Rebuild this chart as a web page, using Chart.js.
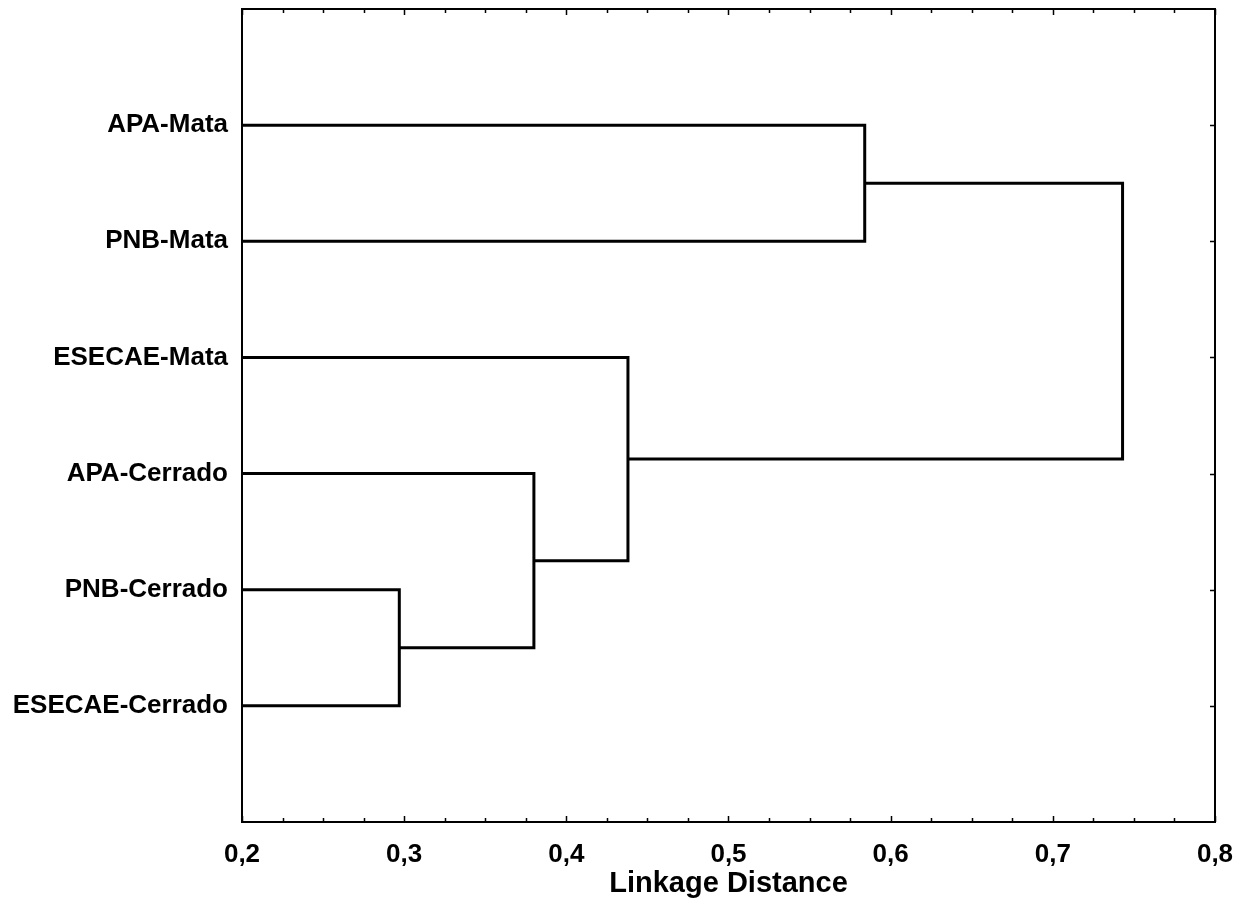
<!DOCTYPE html>
<html>
<head>
<meta charset="utf-8">
<script src="https://cdn.jsdelivr.net/npm/chart.js@4"></script>
<style>
  body { margin: 0; background: #fff; }
  #wrap { width: 1252px; height: 917px; position: relative; }
</style>
</head>
<body>
<div id="wrap"><canvas id="dendro"></canvas></div>
<script>
// leaves top to bottom
const leaves = ["APA-Mata", "PNB-Mata", "ESECAE-Mata", "APA-Cerrado", "PNB-Cerrado", "ESECAE-Cerrado"];
// merges: node ids 0..5 are leaves, each merge creates node 6, 7, ...
const mergePairs = [[4, 5], [3, 6], [2, 7], [0, 1], [8, 9]];
const mergeHeights = [0.297, 0.380, 0.438, 0.584, 0.743];
const xTickLabels = ["0,2", "0,3", "0,4", "0,5", "0,6", "0,7", "0,8"];

const FONT = "'Liberation Sans', Arial, sans-serif";

// build node positions (leaf order on y, merge height on x)
const nodes = leaves.map((name, i) => ({ x: 0, y: i + 1 }));
const datasets = [];
mergePairs.forEach(([a, b], i) => {
  const h = mergeHeights[i];
  const A = nodes[a], B = nodes[b];
  datasets.push({
    data: [{ x: A.x, y: A.y }, { x: h, y: A.y }, { x: h, y: B.y }, { x: B.x, y: B.y }],
    showLine: true,
    borderColor: "#000",
    borderWidth: 3,
    pointRadius: 0,
    tension: 0,
    fill: false,
  });
  nodes.push({ x: h, y: (A.y + B.y) / 2 });
});

// frame and inward tick marks like the original plot
const framePlugin = {
  id: "frame",
  afterDraw(chart) {
    const { ctx, chartArea: a, scales } = chart;
    ctx.save();
    ctx.strokeStyle = "#000";
    ctx.lineWidth = 2;
    ctx.strokeRect(a.left, a.top, a.right - a.left, a.bottom - a.top);
    ctx.lineWidth = 1.5;
    ctx.beginPath();
    for (let k = 0; k <= 24; k++) {
      const px = Math.round(scales.x.getPixelForValue(0.2 + k * 0.025)) + 0.5;
      const len = k % 4 === 0 ? 6 : 4;
      ctx.moveTo(px, a.bottom); ctx.lineTo(px, a.bottom - len);
      ctx.moveTo(px, a.top); ctx.lineTo(px, a.top + len);
    }
    leaves.forEach((name, i) => {
      const py = Math.round(scales.y.getPixelForValue(i + 1)) + 0.5;
      ctx.moveTo(a.right, py); ctx.lineTo(a.right - 5, py);
    });
    ctx.stroke();
    ctx.restore();
  },
};

new Chart(document.getElementById("dendro"), {
  type: "scatter",
  data: { datasets: datasets },
  options: {
    responsive: true,
    maintainAspectRatio: false,
    animation: false,
    layout: { padding: { top: 9, right: 37, left: 0, bottom: 0 } },
    plugins: { legend: { display: false }, tooltip: { enabled: false } },
    scales: {
      x: {
        type: "linear",
        min: 0.2,
        max: 0.8,
        afterFit: (s) => { s.height = 95; },
        afterBuildTicks: (s) => {
          s.ticks = xTickLabels.map((t, i) => ({ value: 0.2 + i * 0.1 }));
        },
        grid: { display: false, drawTicks: false },
        border: { display: false },
        ticks: {
          padding: 17,
          color: "#000",
          font: { family: FONT, size: 26, weight: "bold" },
          callback: (v, i) => xTickLabels[i],
        },
        title: {
          display: true,
          text: "Linkage Distance",
          color: "#000",
          padding: { top: 0, bottom: 16 },
          font: { family: FONT, size: 29, weight: "bold" },
        },
      },
      y: {
        type: "linear",
        min: 0,
        max: 7,
        reverse: true,
        afterFit: (s) => { s.width = 242; s.paddingTop = 0; s.paddingBottom = 0; },
        afterBuildTicks: (s) => {
          s.ticks = leaves.map((n, i) => ({ value: i + 1 }));
        },
        grid: { display: false, drawTicks: false },
        border: { display: false },
        ticks: {
          padding: 14,
          color: "#000",
          autoSkip: false,
          font: { family: FONT, size: 26, weight: "bold" },
          callback: (v) => leaves[v - 1] || "",
        },
      },
    },
  },
  plugins: [framePlugin],
});
</script>
</body>
</html>
